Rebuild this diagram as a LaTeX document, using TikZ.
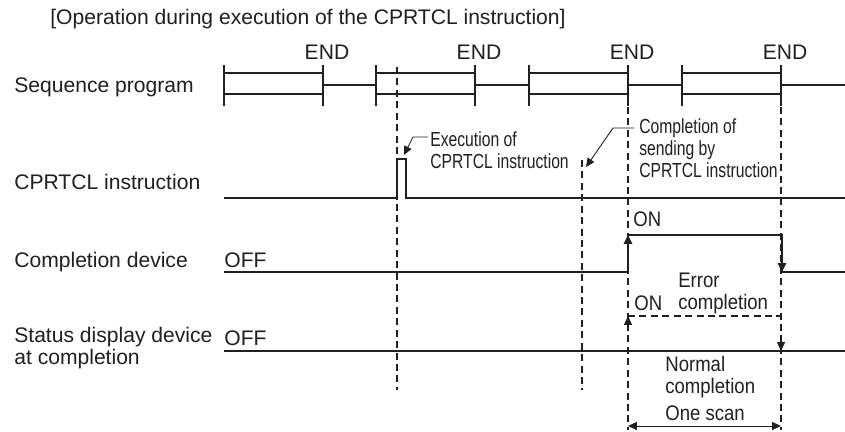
\documentclass[tikz,border=0pt]{standalone}
\usepackage{fontspec}
\setmainfont{Liberation Sans}
\newfontfamily\narrowA[FakeStretch=0.77]{Liberation Sans}
\newfontfamily\narrowB[FakeStretch=0.88]{Liberation Sans}
\usetikzlibrary{arrows.meta}
\definecolor{ink}{RGB}{35,31,32}
\tikzset{
  tri/.tip={Triangle[length=5pt,width=4.5pt]},
  lbl/.style={anchor=base west,inner sep=0pt,text=ink,font=\fontsize{12}{14}\selectfont},
  note/.style={lbl,font=\fontsize{11.6}{14}\narrowA},
  tag/.style={lbl,font=\fontsize{12}{14}\narrowB},
  sig/.style={draw=ink,line width=1.2pt},
  guide/.style={draw=ink,line width=0.7pt,dash pattern=on 4pt off 2.5pt},
  lead/.style={draw=ink,line width=0.5pt},
  arr/.style={-tri},
  both/.style={tri-tri},
}
\begin{document}
\begin{tikzpicture}[x=0.02cm,y=-0.02cm]
\fill[white] (0,0) rectangle (845,432);
\useasboundingbox (0,0) rectangle (845,432);
\node[lbl] (title) at (50,25) {[Operation during execution of the CPRTCL instruction]};
% row labels
\node[lbl] (seq) at (14,93) {Sequence program};
\node[lbl] (cmd) at (14,190) {CPRTCL instruction};
\node[lbl] (cdev) at (14,268) {Completion device};
\node[lbl] (sdev1) at (14,342) {Status display device};
\node[lbl] (sdev2) at (14,364) {at completion};
\node[lbl] (off1) at (224,268) {OFF};
\node[lbl] (off2) at (224,345) {OFF};
% sequence program scans
\foreach \a/\b/\c in {224/323/376, 376/475/529, 529/628/682, 682/781/845} {
  \draw[sig] (\a,65) -- (\a,106) (\b,65) -- (\b,106);
  \draw[sig] (\a,73) -- (\b,73) (\a,94) -- (\b,94) (\b,85) -- (\c,85);
  \node[lbl,anchor=base] (end\b) at (\b+4,60) {END};
}
% timing guides
\draw[guide] (397,67) -- (397,390);
\draw[guide] (582,160) -- (582,390);
\draw[guide] (628,107) -- (628,430);
\draw[guide] (781,107) -- (781,430);
% signals
\draw[sig] (224,198) -- (397,198) -- (397,159) -- (406,159) -- (406,198) -- (845,198);
\draw[sig] (224,272) -- (628,272) -- (628,235) -- (782,235) -- (782,272) -- (845,272);
\draw[sig,arr] (628,255) -- (628,235);
\draw[sig,arr] (782,255) -- (782,272);
\draw[sig] (224,351) -- (845,351);
\draw[guide] (628,316) -- (781,316);
\draw[lead,arr] (628,330) -- (628,316);
\draw[lead,arr] (781,335) -- (781,351);
% notes
\node[note] (ex1) at (430,147) {Execution of};
\node[note] (ex2) at (430,169) {CPRTCL instruction};
\draw[lead,arr] (428,137) -- (413,137) -- (404,155);
\node[note] (cs1) at (639,134) {Completion of};
\node[note] (cs2) at (639,156) {sending by};
\node[note] (cs3) at (639,178) {CPRTCL instruction};
\draw[lead,arr] (634,128) -- (613,128) -- (586,167);
\node[tag] (on1) at (633,227) {ON};
\node[tag] (err1) at (678,287) {Error};
\node[tag] (err2) at (678,309) {completion};
\node[tag] (on2) at (634,310) {ON};
\node[tag] (nrm1) at (665,371) {Normal};
\node[tag] (nrm2) at (665,393) {completion};
\node[tag] (scan) at (665,420) {One scan};
\draw[lead,both] (628,426) -- (781,426);
\end{tikzpicture}
\end{document}
